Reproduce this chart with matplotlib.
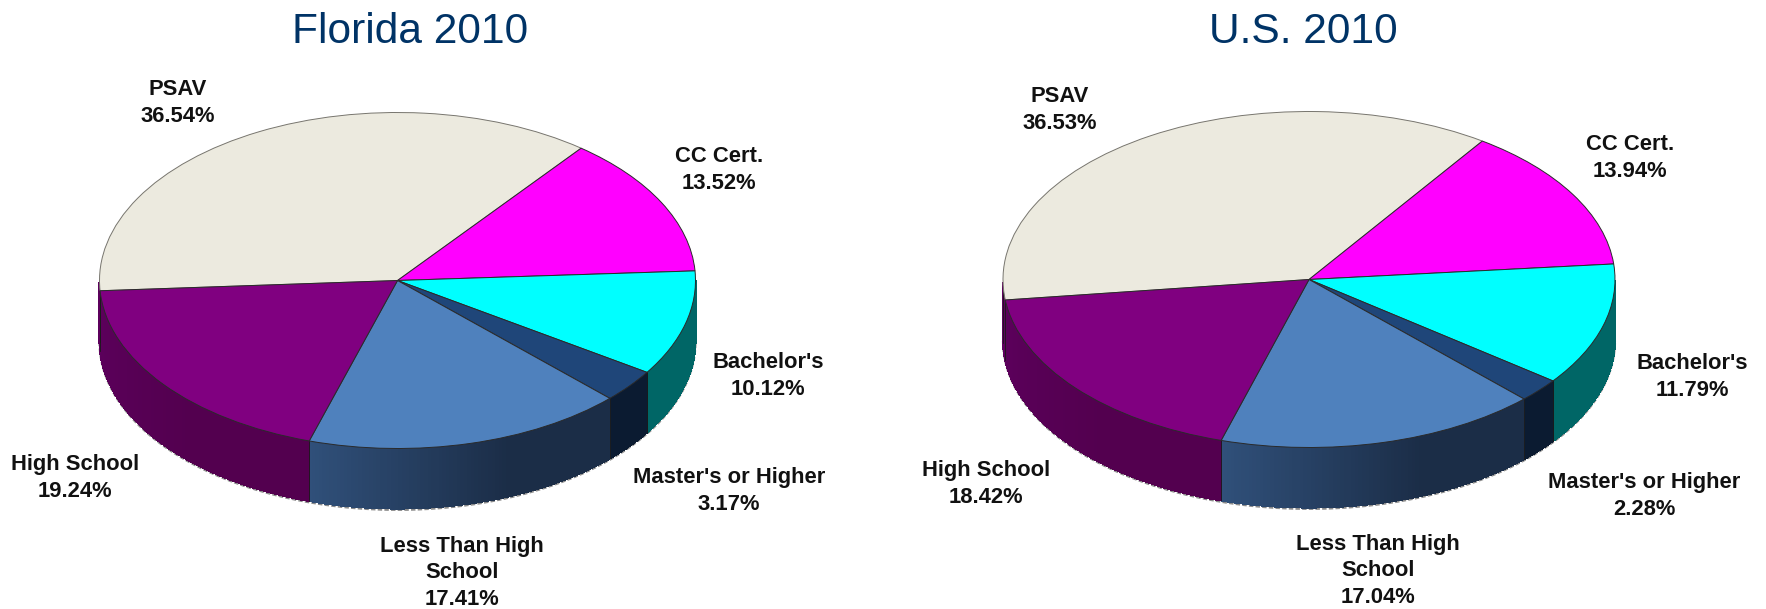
import matplotlib
matplotlib.use('Agg')
import matplotlib.pyplot as plt
import numpy as np

plt.rcParams['font.family'] = ['Liberation Sans', 'DejaVu Sans']

W, H = 1766, 609

categories = ['PSAV', 'CC Cert.', "Bachelor's", "Master's or Higher", 'Less Than High\nSchool', 'High School']
florida = [36.54, 13.52, 10.12, 3.17, 17.41, 19.24]
us = [36.53, 13.94, 11.79, 2.28, 17.04, 18.42]

top_colors = ['#ECEADF', '#FF00FF', '#00FFFF', '#1F4679', '#4F81BD', '#800080']
# side wall colour, left end and right end
side_colors = [('#5C005C', '#5C005C'), ('#990099', '#990099'), ('#006666', '#006666'),
               ('#0B1B31', '#0B1B31'), ('#30507A', '#1B2D47'), ('#5C005C', '#53004F')]

# label centres in pixels of the full size picture
florida_pos = [(178, 103), (719, 170), (768, 376), (729, 491), (462, 573), (75, 478)]
us_pos = [(1060, 110), (1630, 158), (1692, 377), (1644, 496), (1378, 571), (986, 484)]


def px(x, y):
    return x / W, 1 - y / H


def draw_pie(values, cx, cy, rx, ry, depth, start, title, title_x, label_pos):
    ax = fig.add_axes([(cx - rx) / W, 1 - (cy + ry) / H, 2 * rx / W, 2 * ry / H])
    wedges, _ = ax.pie(values, colors=top_colors, startangle=start, counterclock=False, radius=1,
                       wedgeprops=dict(edgecolor='#2a2a2a', linewidth=0.7))
    ax.set_aspect('auto')
    ax.set_xlim(-1, 1)
    ax.set_ylim(-1, 1)
    wedges[0].set_edgecolor('#77756e')
    d = depth / ry

    # side wall, cut in small pieces so the blue one can fade
    for w, (c1, c2) in zip(wedges, side_colors):
        t = np.linspace(w.theta1, w.theta2, 90)
        t = t[np.sin(np.radians(t)) <= 0.001]
        if len(t) < 2:
            continue
        rgb1 = np.array(matplotlib.colors.to_rgb(c1))
        rgb2 = np.array(matplotlib.colors.to_rgb(c2))
        for i in range(len(t) - 1):
            a, b = np.radians(t[i]), np.radians(t[i + 1])
            xs = [np.cos(a), np.cos(b), np.cos(b), np.cos(a)]
            ys = [np.sin(a), np.sin(b), np.sin(b) - d, np.sin(a) - d]
            f = min(1, (i / (len(t) - 2)) * 1.6) if len(t) > 2 else 0
            col = rgb1 + (rgb2 - rgb1) * f
            ax.fill(xs, ys, color=col, lw=0.8, antialiased=False, clip_on=False, zorder=0.5)
        # dark line between the slices
        a = np.radians(t[0])
        ax.plot([np.cos(a)] * 2, [np.sin(a), np.sin(a) - d], color='#1a1a1a', lw=0.6, clip_on=False, zorder=0.6)

    # rough grey shadow under the wall
    t = np.radians(np.linspace(180, 360, 200))
    ax.plot(np.cos(t), np.sin(t) - d - 0.008, color='#8a8a8a', lw=1.6, ls=(0, (2, 1)), clip_on=False, zorder=0.4)

    for name, v, (x, y) in zip(categories, values, label_pos):
        fx, fy = px(x, y)
        fig.text(fx, fy, f'{name}\n{v:.2f}%', ha='center', va='center', fontsize=15.8,
                 fontweight='bold', color='#111111', linespacing=1.32)

    fx, fy = px(title_x, 32)
    fig.text(fx, fy, title, ha='center', va='center', fontsize=30.6, color='#003366')


fig = plt.figure(figsize=(W / 100, H / 100), dpi=100)
draw_pie(florida, 397.5, 280.5, 298, 168, 60, 183.5, 'Florida 2010', 410, florida_pos)
draw_pie(us, 1309, 279.5, 306, 168, 60, 187, 'U.S. 2010', 1303, us_pos)
fig.savefig('out.png', dpi=100)
